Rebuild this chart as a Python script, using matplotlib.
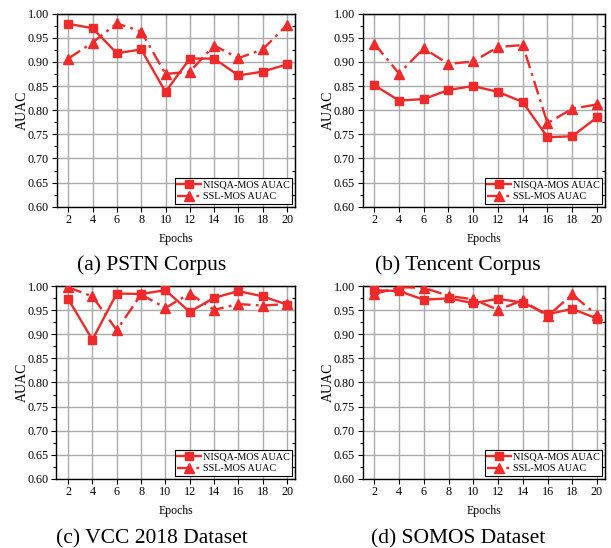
import numpy as np
import matplotlib
matplotlib.use('Agg')
from matplotlib import pyplot as plt
from matplotlib.ticker import MultipleLocator

plt.rcParams['font.family'] = ['Liberation Serif', 'DejaVu Serif']

# Data
epochs = [2, 4, 6, 8, 10, 12, 14, 16, 18, 20]

pstn_nisqa = [0.979, 0.970, 0.918, 0.926, 0.838, 0.907, 0.907, 0.872, 0.880, 0.895]
pstn_ssl = [0.907, 0.940, 0.980, 0.963, 0.875, 0.880, 0.934, 0.908, 0.926, 0.977]

tencent_nisqa = [0.852, 0.820, 0.823, 0.842, 0.850, 0.838, 0.817, 0.744, 0.746, 0.785]
tencent_ssl = [0.938, 0.876, 0.928, 0.896, 0.901, 0.931, 0.935, 0.773, 0.803, 0.812]

vcc_nisqa = [0.974, 0.889, 0.985, 0.984, 0.992, 0.947, 0.976, 0.990, 0.979, 0.962]
vcc_ssl = [0.998, 0.979, 0.909, 0.983, 0.955, 0.985, 0.951, 0.963, 0.960, 0.963]

somos_nisqa = [0.992, 0.990, 0.972, 0.975, 0.965, 0.974, 0.966, 0.942, 0.953, 0.933]
somos_ssl = [0.984, 0.998, 0.997, 0.980, 0.973, 0.951, 0.971, 0.938, 0.983, 0.940]

captions = ['(a) PSTN Corpus', '(b) Tencent Corpus', '(c) VCC 2018 Dataset', '(d) SOMOS Dataset']
panels = [(pstn_nisqa, pstn_ssl), (tencent_nisqa, tencent_ssl),
          (vcc_nisqa, vcc_ssl), (somos_nisqa, somos_ssl)]

W, H = 611, 548
# axes boxes in pixels: left, top, right, bottom
boxes = [(56.7, 13.7, 295, 206.7), (362.5, 13.7, 605, 206.7),
         (56.5, 286.3, 295, 478.7), (362.7, 286.3, 605, 478.7)]
cap_pos = [(152, 265), (458, 265), (152, 539), (458, 539)]

red = '#EE2A2A'

fig = plt.figure(figsize=(W / 100, H / 100), dpi=100)

for i in range(4):
    l, t, r, b = boxes[i]
    ax = fig.add_axes([l / W, 1 - b / H, (r - l) / W, (b - t) / H])
    nisqa, ssl = panels[i]
    ax.plot(epochs, nisqa, color=red, lw=1.7, marker='s', ms=5.5,
            label='NISQA-MOS AUAC', zorder=3)
    ax.plot(epochs, ssl, color=red, lw=1.7, marker='^', ms=7,
            linestyle=(0, (6, 2.2, 1.2, 2.2)), label='SSL-MOS AUAC', zorder=3)
    ax.set_xlim(1.05, 20.65)
    ax.set_ylim(0.60, 1.00)
    ax.set_xticks(epochs)
    yt = np.arange(0.60, 1.001, 0.05)
    ax.set_yticks(yt)
    ax.set_yticklabels(['%.2f' % v for v in yt])
    ax.yaxis.set_minor_locator(MultipleLocator(0.025))
    ax.grid(True, color='#AAAAAA', lw=1.0)
    ax.tick_params(axis='both', which='major', labelsize=8.7, length=3.5, width=0.8, pad=2)
    ax.tick_params(axis='y', which='minor', length=2, width=0.8)
    for s in ax.spines.values():
        s.set_linewidth(1.0)
    # mirrored inward ticks on top/right
    sx = ax.secondary_xaxis('top')
    sx.set_xticks(epochs)
    sx.tick_params(direction='in', length=3, labeltop=False, width=0.8)
    sy = ax.secondary_yaxis('right')
    sy.set_yticks(yt)
    sy.yaxis.set_minor_locator(MultipleLocator(0.025))
    sy.tick_params(which='both', direction='in', labelright=False, width=0.8)
    sy.tick_params(which='major', length=3)
    sy.tick_params(which='minor', length=2)
    ax.set_xlabel('Epochs', fontsize=8.5, labelpad=5)
    ax.set_ylabel('AUAC', fontsize=10, labelpad=-1)
    leg = ax.legend(loc='lower right', fontsize=7.3, frameon=True, fancybox=False,
                    borderaxespad=0.3, handlelength=2.3, borderpad=0.25,
                    labelspacing=0.2, handletextpad=0.2)
    leg.get_frame().set_edgecolor('black')
    leg.get_frame().set_linewidth(0.8)
    leg.get_frame().set_alpha(1)
    cx, cy = cap_pos[i]
    fig.text(cx / W, 1 - cy / H, captions[i], ha='center', va='center', fontsize=15.5)

plt.savefig('out.png', dpi=100)
